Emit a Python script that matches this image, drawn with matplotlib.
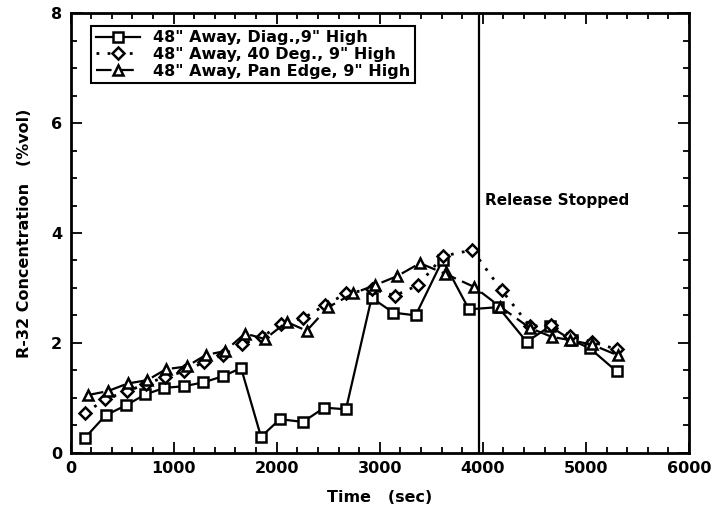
import numpy as np
import matplotlib
matplotlib.use("Agg")
import matplotlib.pyplot as plt
from matplotlib.ticker import MultipleLocator

# data
t_diag = [140, 340, 535, 725, 910, 1100, 1290, 1475, 1655, 1848, 2032, 2255, 2462, 2672, 2921,
          3131, 3348, 3610, 3865, 4150, 4425, 4651, 4861, 5039, 5298]
c_diag = [0.27, 0.68, 0.86, 1.06, 1.18, 1.21, 1.28, 1.39, 1.54, 0.29, 0.61, 0.56, 0.82, 0.79, 2.82,
          2.55, 2.50, 3.51, 2.61, 2.65, 2.02, 2.30, 2.05, 1.90, 1.48]

t_40deg = [141, 335, 545, 735, 915, 1105, 1295, 1480, 1665, 1855, 2045, 2260, 2465, 2675, 2925,
           3147, 3373, 3616, 3897, 4182, 4457, 4657, 4845, 5055, 5303]
c_40deg = [0.72, 0.97, 1.12, 1.25, 1.38, 1.48, 1.65, 1.78, 1.98, 2.10, 2.35, 2.45, 2.68, 2.90, 2.98,
           2.86, 3.05, 3.58, 3.69, 2.96, 2.30, 2.33, 2.13, 2.02, 1.88]

t_pan = [170, 361, 555, 745, 926, 1127, 1314, 1499, 1693, 1887, 2097, 2291, 2500, 2743, 2953,
         3164, 3390, 3632, 3914, 4166, 4457, 4667, 4845, 5055, 5313]
c_pan = [1.05, 1.12, 1.26, 1.32, 1.52, 1.57, 1.78, 1.85, 2.17, 2.07, 2.38, 2.22, 2.65, 2.90, 3.05,
         3.21, 3.45, 3.26, 3.02, 2.66, 2.27, 2.11, 2.05, 1.97, 1.77]

labels = ['48" Away, Diag.,9" High', '48" Away, 40 Deg., 9" High', '48" Away, Pan Edge, 9" High']
release_time = 3960

plt.rcParams['font.family'] = 'DejaVu Sans'
plt.rcParams['font.weight'] = 'bold'

fig = plt.figure(figsize=(7.16, 5.16), dpi=100)
ax = fig.add_axes([0.0985, 0.1227, 0.8638, 0.8515])

ax.plot(t_diag, c_diag, color='black', lw=1.6, marker='s', ms=7, mfc='white', mew=1.8,
        label=labels[0])
ax.plot(t_40deg, c_40deg, color='black', lw=2.0, ls=(0, (1, 3)), marker='D', ms=6.5, mfc='white',
        mew=1.8, label=labels[1])
ax.plot(t_pan, c_pan, color='black', lw=1.6, ls=(0, (7, 3)), marker='^', ms=7.5, mfc='white',
        mew=1.8, label=labels[2])

ax.axvline(release_time, color='black', lw=1.6)
ax.text(release_time + 60, 4.6, 'Release Stopped', fontsize=11, fontweight='semibold', va='center')

ax.set_xlim(0, 6000)
ax.set_ylim(0, 8)
ax.xaxis.set_major_locator(MultipleLocator(1000))
ax.xaxis.set_minor_locator(MultipleLocator(200))
ax.yaxis.set_major_locator(MultipleLocator(2))
ax.yaxis.set_minor_locator(MultipleLocator(0.5))
ax.tick_params(which='both', direction='in', top=True, right=True, width=1.3, labelsize=11.5)
ax.tick_params(which='major', length=8, pad=6)
ax.tick_params(which='minor', length=4)
for s in ax.spines.values():
    s.set_linewidth(2)

ax.set_xlabel('Time   (sec)', fontsize=11.5, fontweight='bold', labelpad=10)
ax.set_ylabel('R-32 Concentration   (%vol)', fontsize=11.5, fontweight='bold', labelpad=14)

leg = ax.legend(loc='upper left', bbox_to_anchor=(0.02, 0.99), fontsize=11.5, frameon=True,
                fancybox=False, edgecolor='black', framealpha=1, handlelength=2.8,
                borderpad=0.3, labelspacing=0.1, handletextpad=0.8)
leg.get_frame().set_linewidth(1.5)

fig.savefig('out.png', dpi=100)
